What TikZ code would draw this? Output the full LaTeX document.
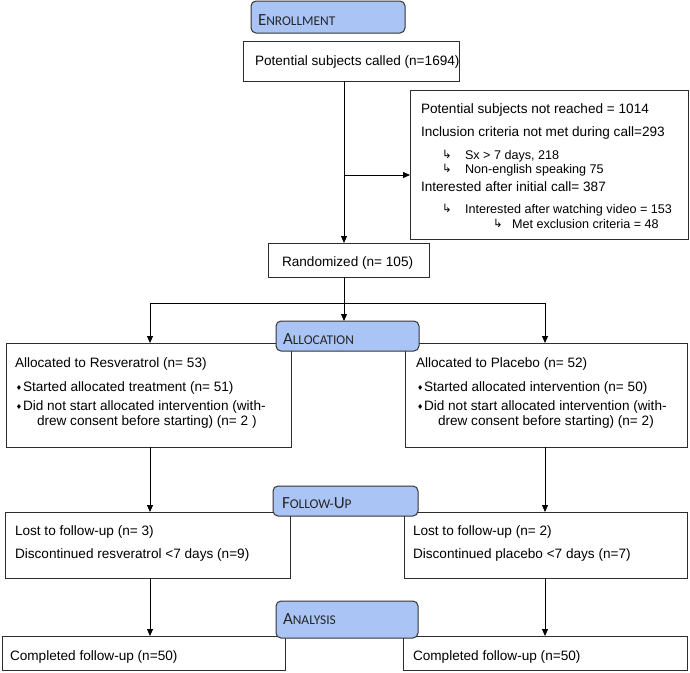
\documentclass[tikz,border=0pt]{standalone}
\usepackage{fontspec}
\setmainfont{Liberation Sans}
\newfontfamily\hdrfont{Carlito}
\newfontfamily\symfont{DejaVu Sans}
\usetikzlibrary{arrows.meta,calc}
\definecolor{hdrblue}{RGB}{169,196,245}
\definecolor{lineg}{RGB}{45,45,45}
\newcommand{\hsc}[2]{{\fontsize{17}{18}\selectfont #1}{\fontsize{13.4}{14}\selectfont #2}}
\newcommand{\hookarr}{{\symfont\fontsize{11.5}{12}\selectfont ↳}}
\newcommand{\dmd}{{\symfont\fontsize{7}{8}\selectfont ♦}}
\tikzset{
  box/.style={draw=lineg, line width=0.8pt, inner sep=0pt, outer sep=0pt, anchor=north west},
  hdr/.style={box, fill=hdrblue, rounded corners=5pt, draw=black!80, line width=1pt},
  txt/.style={anchor=base west, inner sep=0pt, outer sep=0pt, font=\fontsize{13.6}{15}\selectfont},
  subtxt/.style={txt, font=\fontsize{12.6}{14}\selectfont},
  htxt/.style={anchor=base west, inner sep=0pt, outer sep=0pt, font=\hdrfont, text=black!85},
  arr/.style={-{Triangle[length=7pt,width=6pt]}, line width=0.8pt, draw=black},
}
\begin{document}
\begin{tikzpicture}[x=1pt,y=-1pt]
\useasboundingbox (0,0) rectangle (690,672);
% body boxes
\node[box, minimum width=216pt, minimum height=40pt] (called) at (243,41) {};
\node[box, minimum width=278pt, minimum height=149pt] (excl) at (410,90) {};
\node[box, minimum width=161pt, minimum height=34pt] (rand) at (268,243) {};
\node[box, minimum width=285pt, minimum height=104pt] (allocL) at (6,343) {};
\node[box, minimum width=282pt, minimum height=104pt] (allocR) at (405,343) {};
\node[box, minimum width=285pt, minimum height=66pt] (fupL) at (5,512) {};
\node[box, minimum width=283pt, minimum height=66pt] (fupR) at (404,512) {};
\node[box, minimum width=283pt, minimum height=34pt] (compL) at (2,636) {};
\node[box, minimum width=284pt, minimum height=34pt] (compR) at (403,636) {};
% header boxes
\node[hdr, minimum width=154pt, minimum height=32pt] (enroll) at (251,1) {};
\node[hdr, minimum width=143pt, minimum height=30pt] (alloc) at (276,321) {};
\node[hdr, minimum width=145pt, minimum height=30pt] (fup) at (273,486) {};
\node[hdr, minimum width=142pt, minimum height=37pt] (anal) at (276,601) {};
% header texts
\node[htxt] (h1) at (258,25) {\hsc{E}{NROLLMENT}};
\node[htxt] (h2) at (283,344) {\hsc{A}{LLOCATION}};
\node[htxt] (h3) at (282,508) {\hsc{F}{OLLOW-}\hsc{U}{P}};
\node[htxt] (h4) at (283,624) {\hsc{A}{NALYSIS}};
% connectors
\coordinate (xm) at (344,0);
\coordinate (yb) at (0,175);
\coordinate (xl) at (150,303);
\coordinate (xr) at (545,303);
\draw[arr] (called.south -| xm) -- (rand.north -| xm);
\draw[arr] (xm |- yb) -- (excl.west |- yb);
\draw[arr] (rand.south -| xm) -- (alloc.north -| xm);
\draw[arr] (xm |- xl) -- (xl) -- (allocL.north -| xl);
\draw[arr] (xm |- xr) -- (xr) -- (allocR.north -| xr);
\draw[arr] (allocL.south -| xl) -- (fupL.north -| xl);
\draw[arr] (allocR.south -| xr) -- (fupR.north -| xr);
\draw[arr] (fupL.south -| xl) -- (compL.north -| xl);
\draw[arr] (fupR.south -| xr) -- (compR.north -| xr);
% texts
\node[txt] (t1) at (255,65) {Potential subjects called (n=1694)};
\node[txt] (t2) at (421,113) {Potential subjects not reached = 1014};
\node[txt] (t3) at (421,136) {Inclusion criteria not met during call=293};
\node[txt] (a1) at (442,158) {\hookarr};
\node[subtxt] (t4) at (465,159) {Sx > 7 days, 218};
\node[txt] (a2) at (442,172) {\hookarr};
\node[subtxt] (t5) at (465,173) {Non-english speaking 75};
\node[txt] (t6) at (421,191) {Interested after initial call= 387};
\node[txt] (a3) at (442,212) {\hookarr};
\node[subtxt] (t7) at (465,213) {Interested after watching video = 153};
\node[txt] (a4) at (493,227) {\hookarr};
\node[subtxt] (t8) at (512,228) {Met exclusion criteria = 48};
\node[txt] (t9) at (282,266) {Randomized (n= 105)};
% allocation left
\node[txt] (l1) at (15,367) {Allocated to Resveratrol (n= 53)};
\node[txt] (lb1) at (16,390) {\dmd};
\node[txt] (l2) at (23,391) {Started allocated treatment (n= 51)};
\node[txt] (lb2) at (16,409) {\dmd};
\node[txt] (l3) at (23,410) {Did not start allocated intervention (with-};
\node[txt] (l4) at (37,425) {drew consent before starting) (n= 2 )};
% allocation right
\node[txt] (r1) at (416,367) {Allocated to Placebo (n= 52)};
\node[txt] (rb1) at (417,390) {\dmd};
\node[txt] (r2) at (424,391) {Started allocated intervention (n= 50)};
\node[txt] (rb2) at (417,409) {\dmd};
\node[txt] (r3) at (424,410) {Did not start allocated intervention (with-};
\node[txt] (r4) at (438,425) {drew consent before starting) (n= 2)};
% follow-up
\node[txt] (f1) at (15,535) {Lost to follow-up (n= 3)};
\node[txt] (f2) at (15,558) {Discontinued resveratrol <7 days (n=9)};
\node[txt] (f3) at (413,535) {Lost to follow-up (n= 2)};
\node[txt] (f4) at (413,558) {Discontinued placebo <7 days (n=7)};
% completed
\node[txt] (c1) at (10,660) {Completed follow-up (n=50)};
\node[txt] (c2) at (413,660) {Completed follow-up (n=50)};
\end{tikzpicture}
\end{document}
